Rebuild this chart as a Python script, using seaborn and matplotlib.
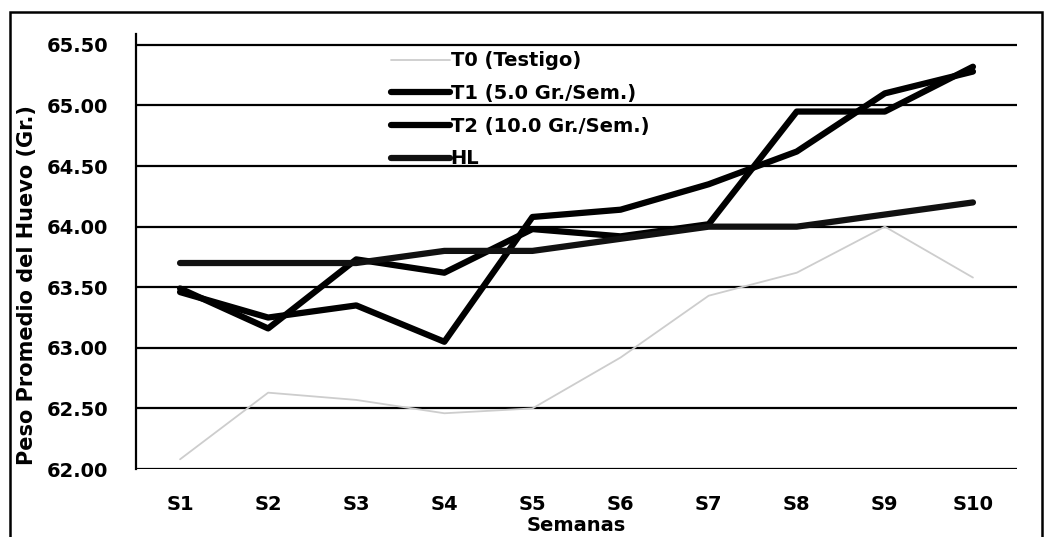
import matplotlib
matplotlib.use("Agg")
import matplotlib.pyplot as plt
import matplotlib.patches as mpatches
import seaborn as sns
import pandas as pd

# Weekly average egg weight per treatment
semanas = ["S1", "S2", "S3", "S4", "S5", "S6", "S7", "S8", "S9", "S10"]
t0 = [62.08, 62.63, 62.57, 62.46, 62.50, 62.92, 63.43, 63.62, 64.00, 63.58]
t1 = [63.46, 63.25, 63.35, 63.05, 64.08, 64.14, 64.35, 64.62, 65.10, 65.28]
t2 = [63.49, 63.16, 63.73, 63.62, 63.98, 63.92, 64.02, 64.95, 64.95, 65.32]
hl = [63.70, 63.70, 63.70, 63.80, 63.80, 63.90, 64.00, 64.00, 64.10, 64.20]
series_names = ["T0 (Testigo)", "T1 (5.0 Gr./Sem.)", "T2 (10.0 Gr./Sem.)", "HL"]
y_ticks = [62.00, 62.50, 63.00, 63.50, 64.00, 64.50, 65.00, 65.50]

sns.set_theme(style="white")
plt.rcParams["font.family"] = ["DejaVu Sans"]

df = pd.DataFrame({
    "Semana": semanas * 4,
    "Peso": t0 + t1 + t2 + hl,
    "Serie": [n for n in series_names for _ in semanas],
})

fig = plt.figure(figsize=(10.52, 5.37), dpi=100)
ax = fig.add_axes([136 / 1052, 1 - 469 / 537, (1017 - 136) / 1052, (469 - 34) / 537])

styles = {
    "T0 (Testigo)": dict(color="#cdcdcd", linewidth=1.3),
    "T1 (5.0 Gr./Sem.)": dict(color="black", linewidth=4.5),
    "T2 (10.0 Gr./Sem.)": dict(color="black", linewidth=4.5),
    "HL": dict(color="#111111", linewidth=4.5),
}
for name in series_names:
    sub = df[df["Serie"] == name]
    sns.lineplot(data=sub, x="Semana", y="Peso", ax=ax, label=name,
                 solid_capstyle="round", **styles[name])

ax.set_xlim(-0.5, 9.5)
ax.set_ylim(62.0, 65.59)
ax.set_yticks(y_ticks)
ax.set_yticklabels([f"{v:.2f}" for v in y_ticks])
ax.yaxis.grid(True, color="black", linewidth=1.6)
ax.xaxis.grid(False)
ax.set_axisbelow(True)

for side in ["top", "right", "bottom"]:
    ax.spines[side].set_visible(False)
ax.spines["left"].set_color("black")
ax.spines["left"].set_linewidth(1.6)

ax.tick_params(axis="y", length=5, width=1.5, color="black", direction="out",
               pad=15, labelsize=14, labelcolor="black")
ax.tick_params(axis="x", length=0, pad=19, labelsize=14, labelcolor="black")
for lab in ax.get_yticklabels() + ax.get_xticklabels():
    lab.set_fontweight("bold")

ax.set_xlabel("Semanas", fontsize=14, fontweight="bold", color="black", labelpad=0)
ax.xaxis.set_label_coords(0.5, -0.107)
ax.set_ylabel("Peso Promedio del Huevo (Gr.)", fontsize=15, fontweight="bold",
              color="black", labelpad=2)
ax.yaxis.set_label_coords(-0.112, 0.423)

leg = ax.legend(loc="upper left", bbox_to_anchor=(0.270, 1.0), frameon=False,
                handlelength=3.0, handletextpad=0.05, labelspacing=0.7,
                prop={"weight": "bold", "size": 14})
for txt in leg.get_texts():
    txt.set_color("black")

# outer border around the whole chart
fig.patches.append(mpatches.Rectangle((10 / 1052, -0.05), 1032 / 1052, 1.05 - 12 / 537,
                                      transform=fig.transFigure, fill=False,
                                      edgecolor="black", linewidth=1.8))

fig.savefig("out.png", dpi=100)
